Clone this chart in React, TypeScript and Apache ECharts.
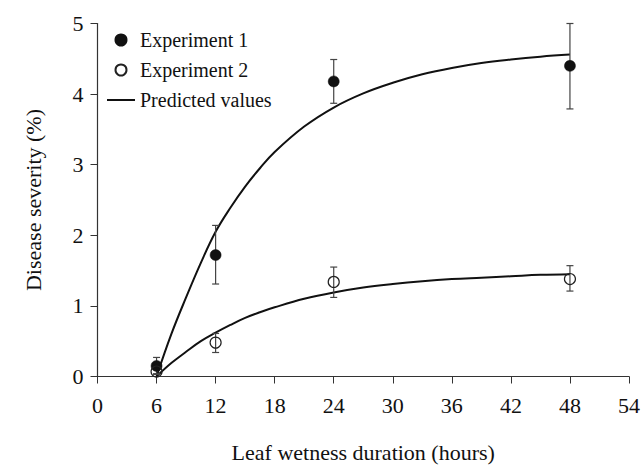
import React, { useEffect, useRef } from "react";
import * as echarts from "echarts";

const hours = [6, 12, 24, 48];
const exp1Mean = [0.15, 1.72, 4.18, 4.4];
const exp1Low = [0.04, 1.31, 3.87, 3.79];
const exp1High = [0.27, 2.14, 4.49, 5.0];
const exp2Mean = [0.07, 0.48, 1.34, 1.38];
const exp2Low = [0.03, 0.34, 1.12, 1.21];
const exp2High = [0.12, 0.61, 1.55, 1.57];

const predHours = [6, 7.5, 9, 10.5, 12, 13.5, 15, 16.5, 18, 21, 24, 27, 30, 33, 36, 39, 42, 45, 48];
const pred1 = [0, 0.6, 1.12, 1.61, 2.05, 2.39, 2.69, 2.95, 3.18, 3.54, 3.81, 4.01, 4.16, 4.28, 4.37, 4.44, 4.49, 4.53, 4.56];
const pred2 = [0, 0.19, 0.35, 0.5, 0.62, 0.73, 0.83, 0.91, 0.98, 1.1, 1.19, 1.26, 1.31, 1.35, 1.38, 1.4, 1.42, 1.44, 1.45];

const xTicks = [0, 6, 12, 18, 24, 30, 36, 42, 48, 54];
const yTicks = [0, 1, 2, 3, 4, 5];

const FONT = "Liberation Serif, Times New Roman, Times, serif";

function errorSeries(low: number[], high: number[]) {
  return {
    type: "custom",
    name: "err",
    z: 3,
    silent: true,
    data: hours.map((h, i) => [h, low[i], high[i]]),
    renderItem: (params: any, api: any) => {
      const x = api.value(0);
      const top = api.coord([x, api.value(2)]);
      const bot = api.coord([x, api.value(1)]);
      const w = 3.5;
      const style = { stroke: "#444", lineWidth: 1.2 };
      return {
        type: "group",
        children: [
          { type: "line", shape: { x1: top[0], y1: top[1], x2: bot[0], y2: bot[1] }, style },
          { type: "line", shape: { x1: top[0] - w, y1: top[1], x2: top[0] + w, y2: top[1] }, style },
          { type: "line", shape: { x1: bot[0] - w, y1: bot[1], x2: bot[0] + w, y2: bot[1] }, style },
        ],
      };
    },
  };
}

export default function App() {
  const ref = useRef<HTMLDivElement>(null);
  useEffect(() => {
    if (!ref.current) return;
    const chart = echarts.init(ref.current, null, { renderer: "svg" });
    chart.setOption({
      animation: false,
      backgroundColor: "#fff",
      textStyle: { fontFamily: FONT },
      grid: { left: 97.5, right: 13, top: 23.5, bottom: 94.5 },
      legend: {
        orient: "vertical",
        left: 107,
        top: 30,
        padding: 0,
        itemWidth: 28,
        itemHeight: 11,
        itemGap: 10,
        data: [
          { name: "Experiment 1" },
          { name: "Experiment 2" },
          { name: "Predicted values", icon: "path://M0,0H28V2H0Z" },
        ],
        textStyle: { fontFamily: FONT, fontSize: 20, color: "#111" },
      },
      xAxis: {
        type: "value",
        min: 0,
        max: 54,
        interval: 6,
        name: "Leaf wetness duration (hours)",
        nameLocation: "middle",
        nameGap: 65,
        nameTextStyle: { fontFamily: FONT, fontSize: 22, color: "#111" },
        axisLine: { lineStyle: { color: "#333", width: 1.2 } },
        axisTick: { show: true, inside: false, length: 7, lineStyle: { color: "#333" } },
        axisLabel: {
          fontFamily: FONT,
          fontSize: 22,
          color: "#111",
          margin: 18,
          formatter: (v: number) => (xTicks.includes(v) ? String(v) : ""),
        },
        splitLine: { show: false },
      },
      yAxis: {
        type: "value",
        min: 0,
        max: 5,
        interval: 1,
        name: "Disease severity (%)",
        nameLocation: "middle",
        nameGap: 53,
        nameTextStyle: { fontFamily: FONT, fontSize: 22, color: "#111" },
        axisLine: { show: true, lineStyle: { color: "#333", width: 1.2 } },
        axisTick: { show: true, inside: false, length: 7, lineStyle: { color: "#333" } },
        axisLabel: {
          fontFamily: FONT,
          fontSize: 22,
          color: "#111",
          margin: 14,
          formatter: (v: number) => (yTicks.includes(v) ? String(v) : ""),
        },
        splitLine: { show: false },
      },
      series: [
        {
          type: "line",
          name: "Predicted values",
          data: predHours.map((h, i) => [h, pred1[i]]),
          smooth: 0.4,
          symbol: "none",
          z: 2,
          lineStyle: { color: "#111", width: 2 },
          itemStyle: { color: "#111" },
        },
        {
          type: "line",
          name: "Predicted values",
          data: predHours.map((h, i) => [h, pred2[i]]),
          smooth: 0.4,
          symbol: "none",
          z: 2,
          lineStyle: { color: "#111", width: 2 },
          itemStyle: { color: "#111" },
        },
        errorSeries(exp1Low, exp1High),
        errorSeries(exp2Low, exp2High),
        {
          type: "scatter",
          name: "Experiment 1",
          data: hours.map((h, i) => [h, exp1Mean[i]]),
          symbol: "circle",
          symbolSize: 11,
          z: 4,
          itemStyle: { color: "#111", borderColor: "#111", borderWidth: 0.5, opacity: 1 },
        },
        {
          type: "scatter",
          name: "Experiment 2",
          data: hours.map((h, i) => [h, exp2Mean[i]]),
          symbol: "circle",
          symbolSize: 11,
          z: 4,
          itemStyle: { color: "rgba(255,255,255,0)", borderColor: "#222", borderWidth: 1.2, opacity: 1 },
        },
      ],
    });
    return () => chart.dispose();
  }, []);
  return <div ref={ref} style={{ width: 643, height: 471, position: "absolute", left: 0, top: 0 }} />;
}
